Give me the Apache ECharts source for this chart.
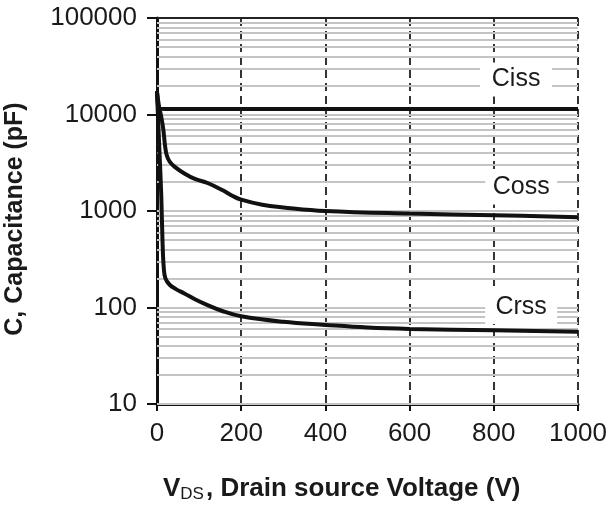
<!DOCTYPE html>
<html>
<head>
<meta charset="utf-8">
<script src="https://cdn.jsdelivr.net/npm/echarts@6/dist/echarts.min.js"></script>
<style>html,body{margin:0;padding:0;background:#fff}#c{width:611px;height:508px}</style>
</head>
<body>
<div id="c"></div>
<script>
// ---- data ----
var xTicks = [0, 200, 400, 600, 800, 1000];
var yTicks = [10, 100, 1000, 10000, 100000];
var cissV = [0, 2, 5, 20, 100, 300, 600, 1000];
var cissC = [17500, 12800, 11500, 11400, 11400, 11400, 11400, 11400];
var cossV = [0, 5, 10, 15, 19, 23, 30, 43, 65, 90, 120, 155, 180, 200, 250, 300, 400, 600, 800, 1000];
var cossC = [17000, 12000, 9500, 7000, 4800, 3800, 3250, 2850, 2450, 2150, 1950, 1650, 1430, 1310, 1160, 1090, 1000, 940, 905, 860];
var crssV = [0, 5, 10, 13, 16, 20, 30, 45, 65, 90, 120, 155, 200, 300, 400, 500, 600, 800, 1000];
var crssC = [17000, 5000, 1500, 500, 260, 200, 172, 155, 140, 122, 106, 92, 81, 71, 66, 62, 60, 58, 56];
var labelNames = ['Ciss', 'Coss', 'Crss'];
var labelV = [853, 865, 865];
var labelC = [23000, 1750, 101];
var minorGrid = [];
[10, 100, 1000, 10000].forEach(function (d) {
  for (var k = 1; k <= 9; k++) minorGrid.push(k * d);
});

function pairs(xs, ys) { return xs.map(function (x, i) { return [x, ys[i]]; }); }

var chart = echarts.init(document.getElementById('c'));
var txt = '#1a1a1a';
var lineStyle = { color: '#111', width: 4 };

function mkLabel(i) {
  return {
    symbol: 'rect',
    symbolSize: [72, 34],
    itemStyle: { color: '#fff' },
    label: { show: true, position: 'inside', formatter: labelNames[i], color: txt, fontSize: 25, fontFamily: 'Liberation Sans, Arial' },
    data: [{ coord: [labelV[i], labelC[i]] }]
  };
}

var option = {
  animation: false,
  backgroundColor: '#fff',
  grid: { left: 157, right: 33, top: 18, bottom: 104 },
  xAxis: {
    type: 'value', min: 0, max: 1000, interval: 200,
    axisLine: { show: true, onZero: false, lineStyle: { color: '#111', width: 3 } },
    axisTick: { show: true, length: 7, lineStyle: { color: '#111', width: 2 } },
    axisLabel: { color: txt, fontSize: 26, margin: 17, fontFamily: 'Liberation Sans, Arial', formatter: function (v) { return String(v); } },
    splitLine: { show: true, lineStyle: { color: '#333', width: 2, type: [8, 5] } }
  },
  yAxis: {
    type: 'log', logBase: 10, min: 10, max: 100000,
    axisLine: { show: true, lineStyle: { color: '#111', width: 3 } },
    axisTick: { show: true, length: 10, lineStyle: { color: '#111', width: 2 } },
    axisLabel: { color: txt, fontSize: 26, margin: 20, fontFamily: 'Liberation Sans, Arial', formatter: function (v) { return String(Math.round(v)); } },
    splitLine: { show: false }
  },
  graphic: [
    {
      type: 'text', x: 15, y: 219, rotation: Math.PI / 2,
      style: { text: 'C, Capacitance (pF)', fill: txt, font: 'bold 25px Liberation Sans, Arial', textAlign: 'center', textVerticalAlign: 'middle' }
    },
    {
      type: 'text', left: 163, top: 476,
      style: {
        text: '{b|V}{s|DS}{b|, Drain source Voltage (V)}',
        rich: {
          b: { fontSize: 26, fontWeight: 'bold', fill: txt, fontFamily: 'Liberation Sans, Arial' },
          s: { fontSize: 17, fill: txt, fontFamily: 'Liberation Sans, Arial', padding: [10, 2, 0, 0] }
        }
      }
    }
  ],
  series: [
    {
      type: 'line', data: [], silent: true, z: 1,
      markLine: {
        silent: true, symbol: 'none', label: { show: false },
        lineStyle: { color: '#c4c4c4', width: 2, type: 'solid' },
        data: minorGrid.map(function (v) { return { yAxis: v }; })
      }
    },
    {
      type: 'line', data: [], silent: true, z: 2,
      markLine: {
        silent: true, symbol: 'none', label: { show: false },
        lineStyle: { color: '#222', width: 2, type: 'solid' },
        data: [{ yAxis: 100000 }]
      }
    },
    { name: 'Ciss', type: 'line', data: pairs(cissV, cissC), showSymbol: false, smooth: 0.4, lineStyle: lineStyle, z: 5, markPoint: mkLabel(0) },
    { name: 'Coss', type: 'line', data: pairs(cossV, cossC), showSymbol: false, smooth: 0.4, lineStyle: lineStyle, z: 5, markPoint: mkLabel(1) },
    { name: 'Crss', type: 'line', data: pairs(crssV, crssC), showSymbol: false, smooth: 0.4, lineStyle: lineStyle, z: 5, markPoint: mkLabel(2) }
  ]
};
chart.setOption(option);
</script>
</body>
</html>
